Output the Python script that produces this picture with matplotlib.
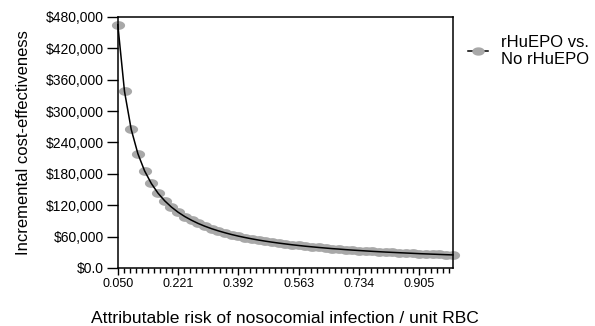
import numpy as np
import matplotlib.pyplot as plt
from matplotlib.path import Path
from matplotlib.ticker import FuncFormatter

plt.rcParams['font.family'] = ['Liberation Sans', 'DejaVu Sans']

risk = [0.050, 0.069, 0.088, 0.107, 0.126, 0.145, 0.164, 0.183, 0.202, 0.221,
        0.240, 0.259, 0.278, 0.297, 0.316, 0.335, 0.354, 0.373, 0.392, 0.411,
        0.430, 0.449, 0.468, 0.487, 0.506, 0.525, 0.544, 0.563, 0.582, 0.601,
        0.620, 0.639, 0.658, 0.677, 0.696, 0.715, 0.734, 0.753, 0.772, 0.791,
        0.810, 0.829, 0.848, 0.867, 0.886, 0.905, 0.924, 0.943, 0.962, 0.981,
        1.000]
icer = [465000, 337500, 265000, 218300, 185600, 161600, 143000, 128400, 116500, 106600,
        98300, 91300, 85100, 79800, 75100, 71000, 67300, 63900, 60900, 58200,
        55700, 53400, 51300, 49400, 47600, 46000, 44400, 43000, 41600, 40400,
        39200, 38100, 37000, 36100, 35100, 34200, 33400, 32600, 31800, 31100,
        30400, 29800, 29200, 28600, 28000, 27400, 26900, 26400, 25900, 25400,
        25000]

xticks = [0.050, 0.221, 0.392, 0.563, 0.734, 0.905]
yticks = [0, 60000, 120000, 180000, 240000, 300000, 360000, 420000, 480000]

# flat ellipse marker
t = np.linspace(0, 2*np.pi, 40)
ellipse = Path(np.column_stack([1.5*np.cos(t), np.sin(t)]), closed=True)

fig = plt.figure(figsize=(5.95, 3.26), dpi=100)
ax = fig.add_axes([0.198, 0.178, 0.563, 0.770])

ax.plot(risk, icer, linestyle='none', marker=ellipse, markersize=9.5,
        color='#a8a8a8', markeredgewidth=0, clip_on=False, zorder=2)
ax.plot(risk, icer, color='black', lw=1.1, clip_on=False, zorder=3)

# legend handle: line through marker
h, = ax.plot([], [], color='black', lw=1.1, marker=ellipse, markersize=9,
             markerfacecolor='#a8a8a8', markeredgewidth=0)
ax.legend([h], ['rHuEPO vs.\nNo rHuEPO'], loc='upper left',
          bbox_to_anchor=(1.045, 0.93), frameon=False, fontsize=12,
          handlelength=1.2, handletextpad=0.8, borderaxespad=0, borderpad=0,
          labelspacing=0.2)

ax.set_xlim(0.05, 1.0)
ax.set_ylim(0, 480000)
ax.set_xticks(xticks)
ax.set_xticklabels(['%.3f' % v for v in xticks])
ax.set_xticks([0.05 + 0.0171*k for k in range(56)], minor=True)
ax.set_yticks(yticks)
ax.yaxis.set_major_formatter(FuncFormatter(lambda v, p: '$0.0' if v == 0 else '${:,.0f}'.format(v)))

ax.tick_params(axis='x', which='major', direction='out', length=5, width=1, labelsize=9, pad=2)
ax.tick_params(axis='x', which='minor', direction='out', length=3.5, width=1)
ax.tick_params(axis='y', direction='out', length=8, width=1, labelsize=10, pad=2)
for s in ax.spines.values():
    s.set_linewidth(1.1)

ax.set_xlabel('Attributable risk of nosocomial infection / unit RBC', fontsize=12.6, labelpad=15)
ax.set_ylabel('Incremental cost-effectiveness', fontsize=12, labelpad=11)

fig.savefig('out.png', dpi=100)
